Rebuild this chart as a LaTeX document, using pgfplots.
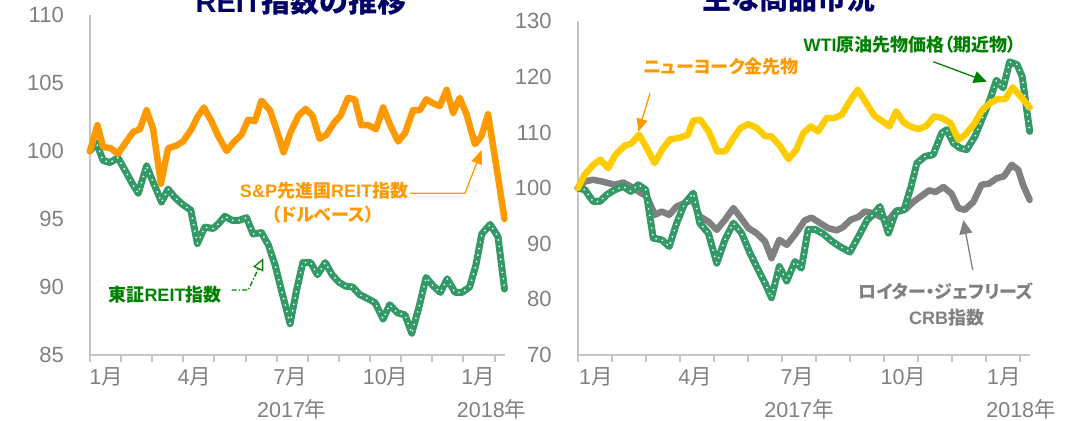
\documentclass[border=0pt]{standalone}
\usepackage{fontspec}
\setmainfont{Liberation Sans}
\newfontfamily\cjk[RawFeature={+palt}]{Noto Sans CJK JP}
\newcommand\J[1]{{\cjk #1}}
\usepackage{pgfplots}
\usepackage{pgfplotstable}
\pgfplotsset{compat=1.18}
\usetikzlibrary{arrows.meta}
\definecolor{sporange}{RGB}{255,153,0}
\definecolor{gold}{RGB}{255,204,0}
\definecolor{crbgray}{RGB}{128,128,128}
\definecolor{wgreen}{RGB}{51,153,102}
\definecolor{tgreen}{RGB}{0,128,0}
\definecolor{axgray}{RGB}{196,196,196}
\definecolor{labgray}{RGB}{128,128,128}
\definecolor{navy}{RGB}{0,0,102}
\newcommand\ylab{\fontsize{22}{24}\selectfont}
\newcommand\xlab{\fontsize{21.5}{23}\selectfont}
\newcommand\ann{\fontsize{18}{20}\selectfont\bfseries}
\newcommand\ttl{\fontsize{29}{31}\selectfont\bfseries}

\pgfplotstableread{
m v
0 100.0
0.24 101.9
0.42 100.3
0.67 100.2
0.90 99.8
1.17 100.7
1.39 101.4
1.60 101.6
1.82 103.0
2.03 101.6
2.28 97.6
2.51 100.2
2.78 100.4
2.99 100.7
3.26 101.6
3.45 102.5
3.66 103.2
3.90 102.2
4.12 101.1
4.39 100.0
4.60 100.6
4.87 101.2
5.08 102.3
5.30 102.2
5.51 103.7
5.78 103.0
5.99 101.6
6.22 99.9
6.45 101.4
6.70 102.6
6.93 103.1
7.15 102.6
7.38 100.9
7.60 101.2
7.85 102.1
8.05 102.6
8.29 103.9
8.51 103.8
8.72 101.9
8.94 101.9
9.19 101.6
9.42 103.2
9.63 102.0
9.90 100.7
10.12 101.3
10.38 103.0
10.60 103.0
10.81 103.8
11.03 103.5
11.24 103.3
11.46 104.5
11.67 102.8
11.88 103.9
12.10 102.7
12.37 100.5
12.58 101.1
12.79 102.7
13.05 99.0
13.32 95.0
}\spreit

\pgfplotstableread{
m v
0 100.0
0.21 100.6
0.42 99.3
0.64 99.15
0.90 99.5
1.17 98.4
1.36 97.6
1.55 96.9
1.82 98.9
2.03 97.7
2.30 96.25
2.51 97.2
2.72 96.6
2.96 96.1
3.24 95.65
3.45 93.2
3.69 94.4
3.96 94.3
4.15 94.7
4.33 95.2
4.57 94.9
4.79 94.9
5.03 95.1
5.24 93.9
5.51 94.0
5.73 93.1
5.95 91.6
6.17 89.6
6.43 87.3
6.64 89.8
6.84 91.8
7.09 91.8
7.31 90.9
7.56 91.8
7.78 90.9
8.00 90.35
8.22 90.05
8.44 90.0
8.66 89.45
8.88 89.2
9.16 88.85
9.42 87.65
9.63 88.7
9.88 88.1
10.12 87.95
10.34 86.6
10.58 88.6
10.80 90.7
11.02 90.1
11.26 89.6
11.48 90.6
11.73 89.6
11.95 89.6
12.20 90.0
12.40 91.6
12.59 93.9
12.86 94.6
13.11 93.7
13.32 89.85
}\tokyo

\pgfplotstableread{
m v
0 100.0
0.20 102.4
0.46 104.2
0.66 105.1
0.89 103.6
1.11 106.0
1.37 107.6
1.57 108.0
1.80 109.6
2.03 107.2
2.26 104.5
2.48 106.9
2.72 108.8
2.97 109.0
3.24 109.6
3.39 112.1
3.60 112.3
3.85 110.2
4.10 106.6
4.34 106.6
4.58 109.0
4.79 110.8
5.02 111.5
5.27 110.8
5.52 109.3
5.70 109.3
5.96 107.5
6.20 105.2
6.43 106.9
6.64 109.9
6.86 111.1
7.07 110.2
7.32 112.6
7.55 112.6
7.77 113.2
8.00 115.6
8.24 117.7
8.49 115.3
8.73 113.0
8.97 112.0
9.17 111.1
9.37 113.8
9.59 111.8
9.81 111.0
10.03 110.6
10.26 111.2
10.49 112.9
10.72 112.6
10.97 111.7
11.20 108.7
11.40 109.6
11.65 111.4
11.91 114.1
12.14 115.3
12.36 116.0
12.58 116.0
12.80 118.1
13.07 116.2
13.30 114.5
}\goldt

\pgfplotstableread{
m v
0 100.0
0.21 99.7
0.45 97.6
0.65 97.6
0.85 98.8
1.09 99.7
1.34 100.3
1.56 99.4
1.78 100.6
2.00 99.7
2.22 91.0
2.47 90.7
2.69 89.5
2.91 93.7
3.15 97.3
3.40 99.1
3.59 93.7
3.84 91.9
4.09 86.5
4.33 90.7
4.58 93.7
4.82 91.9
5.07 88.3
5.31 85.3
5.51 82.9
5.70 80.3
5.93 85.9
6.15 83.3
6.39 86.8
6.58 85.6
6.78 92.6
6.98 92.6
7.22 91.8
7.47 90.5
7.71 89.5
8.01 88.5
8.28 91.5
8.52 94.3
8.69 95.2
8.89 96.7
9.14 91.9
9.36 95.7
9.60 96.1
9.80 100.1
9.98 104.5
10.22 105.7
10.46 106.0
10.71 109.9
10.86 110.5
11.05 108.1
11.25 107.2
11.44 106.9
11.69 109.3
11.93 112.9
12.13 115.9
12.32 119.4
12.52 118.0
12.71 122.7
12.93 122.2
13.08 120.0
13.30 110.2
}\wti

\pgfplotstableread{
m v
0 100.0
0.21 101.2
0.45 101.5
0.70 101.2
0.90 100.9
1.09 100.6
1.34 101.0
1.56 100.3
1.78 99.4
2.03 98.5
2.27 95.2
2.47 95.8
2.69 95.2
2.91 96.7
3.15 97.3
3.38 97.9
3.59 94.9
3.84 94.0
4.09 92.5
4.33 94.3
4.58 96.4
4.77 94.9
5.02 92.8
5.26 91.9
5.51 90.4
5.70 87.4
5.93 90.7
6.15 89.8
6.40 91.7
6.68 94.2
6.88 94.7
7.13 93.7
7.37 92.8
7.62 92.4
7.81 93.0
8.03 94.3
8.25 94.8
8.45 95.8
8.69 95.5
8.92 94.8
9.14 94.2
9.38 96.0
9.63 96.1
9.89 97.6
10.14 98.7
10.34 99.6
10.53 99.3
10.76 100.2
11.00 99.0
11.20 96.4
11.39 96.1
11.64 97.5
11.88 100.6
12.10 100.8
12.34 101.8
12.54 102.1
12.77 104.2
12.96 103.3
13.11 100.5
13.30 97.9
}\crb

\pgfplotsset{
  panel/.style={
    scale only axis, anchor=south west, clip=false,
    axis x line*=bottom, axis y line*=left,
    axis line style={-, draw=axgray, line width=2pt},
    xmin=0,
    xtick={0,...,13}, xticklabels={},
    tick align=outside, major tick length=7pt,
    x tick style={draw=axgray, line width=2pt},
    y tick style={draw=none},
    yticklabel style={font=\ylab, text=labgray, inner sep=0pt, anchor=east, xshift=-19pt},
    /pgf/number format/assume math mode=true,
    every axis plot/.append style={line join=round, line cap=round, no markers},
  },
  wtiline/.style={draw=wgreen, line width=7pt},
  wtidots/.style={draw=white, line width=1.9pt, line cap=round, dash pattern=on 0pt off 6.5pt},
}

\begin{document}
\begin{tikzpicture}[x=1pt,y=1pt]
\useasboundingbox (0,0) rectangle (1078,420);

% ---------- left panel ----------
\begin{axis}[panel, at={(90pt,65pt)}, width=414.5pt, height=340pt,
  xmax=13.32, ymin=85, ymax=110, ytick={85,90,...,110}]
\addplot[wtiline] table[x=m,y=v] {\tokyo};
\addplot[wtidots] table[x=m,y=v] {\tokyo};
\addplot[draw=sporange, line width=6.5pt] table[x=m,y=v] {\spreit};
\node[font=\xlab, text=labgray] at (axis cs:0.52,85) [yshift=-22.3pt] {1\J{月}};
\node[font=\xlab, text=labgray] at (axis cs:3.35,85) [yshift=-22.3pt] {4\J{月}};
\node[font=\xlab, text=labgray] at (axis cs:6.43,85) [yshift=-22.3pt] {7\J{月}};
\node[font=\xlab, text=labgray] at (axis cs:9.5,85) [yshift=-22.3pt] {10\J{月}};
\node[font=\xlab, text=labgray] at (axis cs:12.47,85) [yshift=-22.3pt] {1\J{月}};
\end{axis}

% ---------- right panel ----------
\begin{axis}[panel, at={(577.8pt,65pt)}, width=451.9pt, height=333.8pt,
  xmax=13.30, ymin=70, ymax=130, ytick={70,80,...,130}]
\addplot[draw=crbgray, line width=6.5pt] table[x=m,y=v] {\crb};
\addplot[wtiline] table[x=m,y=v] {\wti};
\addplot[wtidots] table[x=m,y=v] {\wti};
\addplot[draw=gold, line width=6.5pt] table[x=m,y=v] {\goldt};
\node[font=\xlab, text=labgray] at (axis cs:0.53,70) [yshift=-22.3pt] {1\J{月}};
\node[font=\xlab, text=labgray] at (axis cs:3.45,70) [yshift=-22.3pt] {4\J{月}};
\node[font=\xlab, text=labgray] at (axis cs:6.46,70) [yshift=-22.3pt] {7\J{月}};
\node[font=\xlab, text=labgray] at (axis cs:9.58,70) [yshift=-22.3pt] {10\J{月}};
\node[font=\xlab, text=labgray] at (axis cs:12.54,70) [yshift=-22.3pt] {1\J{月}};
\end{axis}

% year labels
\node[font=\xlab, text=labgray] at (291.8,10.7) {2017\J{年}};
\node[font=\xlab, text=labgray] at (491.6,10.7) {2018\J{年}};
\node[font=\xlab, text=labgray] at (799,10.7) {2017\J{年}};
\node[font=\xlab, text=labgray] at (1021,10.7) {2018\J{年}};

% titles (cut by the top edge, as in the reference)
\node[font=\ttl, text=navy, anchor=base] at (301,407) {REIT\J{指数の推移}};
\node[font=\ttl, text=navy, anchor=base] at (789,410) {\J{主な商品市況}};

% annotations, left
\node[font=\ann, text=sporange] at (324,229.5) {S\&P\J{先進国}REIT\J{指数}};
\node[font=\ann, text=sporange] at (323,205) {\J{（ドルベース）}};
\draw[sporange, line width=1.3pt, -{Triangle[length=14pt,width=11pt]}]
  (410,226.7) -- (465,226.7) -- (481.7,270);
\node[font=\ann, text=tgreen] at (165,125) {\J{東証}REIT\J{指数}};
\draw[tgreen, line width=1.3pt, dash pattern=on 5pt off 2pt on 1.5pt off 2pt,
  -{Triangle[open, length=12pt, width=11pt, fill=white, line width=1.3pt]}]
  (231.7,130) -- (248.3,130) -- (263.3,161.7);

% annotations, right
\node[font=\ann, text=sporange] at (721,353.5) {\J{ニューヨーク金先物}};
\draw[sporange, line width=1.3pt, -{Triangle[length=13pt,width=11pt]}]
  (650,326.7) -- (638.3,288.3);
\node[font=\ann, text=tgreen] at (910,375) {WTI\J{原油先物価格（期近物）}};
\draw[tgreen, line width=1.3pt, -{Triangle[length=13pt,width=12pt]}]
  (933.3,358.3) -- (986.7,338.3);
\node[font=\ann, text=crbgray] at (946,128.3) {\J{ロイター・ジェフリーズ}};
\node[font=\ann, text=crbgray] at (946.7,102.5) {CRB\J{指数}};
\draw[crbgray, line width=1.3pt, -{Triangle[length=14pt,width=13pt]}]
  (972.7,150) -- (963.3,200);
\end{tikzpicture}
\end{document}
